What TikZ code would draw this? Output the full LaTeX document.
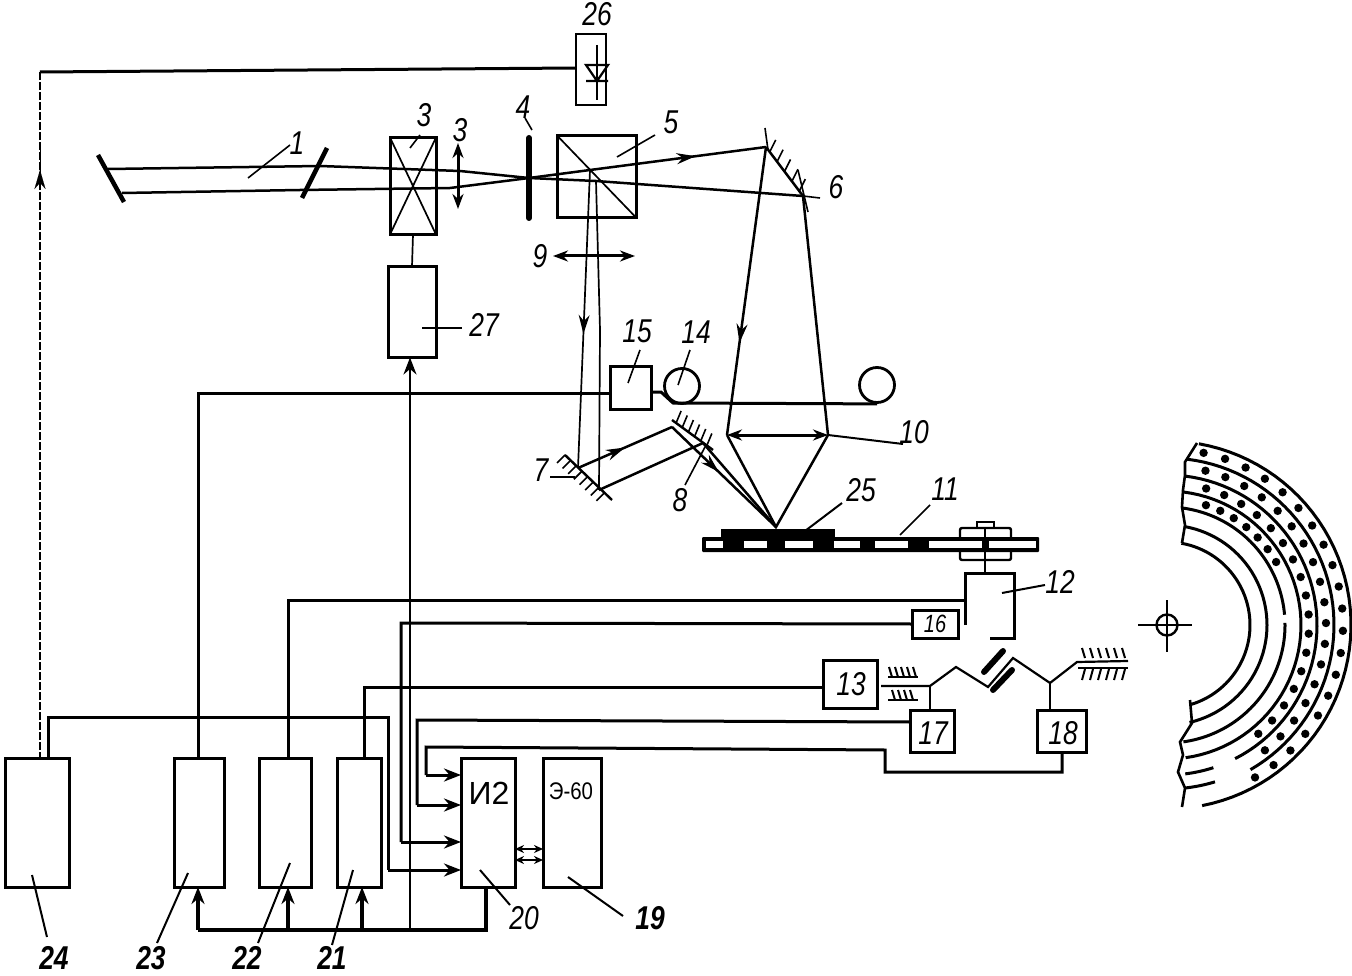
\documentclass[tikz,border=0pt]{standalone}
\usepackage{fontspec}
\setmainfont{Liberation Sans}
\usetikzlibrary{arrows.meta,decorations.markings,calc}
\tikzset{
 bx/.style={draw,line width=3pt,inner sep=0pt,outer sep=0pt,rectangle},
 wire/.style={line width=3pt,line join=miter},
 thin wire/.style={line width=1.7pt},
 beam/.style={line width=2.5pt},
 lead/.style={line width=1.6pt},
 lab/.style={font=\fontsize{33}{33}\selectfont\itshape,xscale=.8,inner sep=0pt},
 blab/.style={font=\fontsize{33}{33}\selectfont\bfseries\itshape,xscale=.8,inner sep=0pt},
 midarr/.style={postaction={decorate,decoration={markings,mark=at position #1 with {\arrow{Stealth[length=19pt,width=11pt]}}}}},
 wtip/.style={-{Stealth[length=17pt,width=13pt]}},
 dbl/.style={{Stealth[length=15pt,width=11pt]}-{Stealth[length=15pt,width=11pt]}},
 sdbl/.style={{Stealth[length=9pt,width=8pt]}-{Stealth[length=9pt,width=8pt]}},
 mirror/.style={line width=4.5pt},
}
\begin{document}
\begin{tikzpicture}[x=1pt,y=-1pt]
\useasboundingbox (0,0) rectangle (1352,976);
% ---------- boxes
\node[bx,line width=1.8pt,minimum width=30pt,minimum height=71pt] (b26) at (591,69.5) {};
\node[bx,minimum width=46pt,minimum height=97pt] (b3) at (413,186) {};
\node[bx,minimum width=48pt,minimum height=91pt] (b27) at (412,312) {};
\node[bx,minimum width=79pt,minimum height=82pt] (b5) at (597,177) {};
\node[bx,minimum width=41pt,minimum height=43pt] (b15) at (631,388) {};
\node[bx,minimum width=46pt,minimum height=28pt] (b16) at (935,624) {};
\node[bx,minimum width=54pt,minimum height=48pt] (b13) at (850,684) {};
\node[bx,minimum width=44pt,minimum height=42pt] (b17) at (932,731) {};
\node[bx,minimum width=49pt,minimum height=42pt] (b18) at (1062,731) {};
\node[bx,minimum width=64pt,minimum height=129pt] (b24) at (37,822.5) {};
\node[bx,minimum width=50pt,minimum height=129pt] (b23) at (199,822.5) {};
\node[bx,minimum width=52pt,minimum height=129pt] (b22) at (285,822.5) {};
\node[bx,minimum width=44pt,minimum height=129pt] (b21) at (359,822.5) {};
\node[bx,minimum width=54pt,minimum height=129pt] (b20) at (488,822.5) {};
\node[bx,minimum width=58pt,minimum height=129pt] (b19) at (572,822.5) {};
\node[draw=none,minimum width=48pt,minimum height=65pt,inner sep=0pt] (b12) at (990,606) {};
\draw[bx,draw] (b12.south west |- 0,625) -- (b12.north west) -- (b12.north east) -- (b12.south east) -- ++(-24,0);
% ---------- diode
\draw[thin wire] (597,45)--(597,100);
\draw[line width=2.2pt] (586,65)--(608,65)--(597,81)--cycle (586,81)--(608,81);
% ---------- laser
\coordinate (mL1) at (98,155); \coordinate (mL2) at (124,202);
\coordinate (mR1) at (327,148); \coordinate (mR2) at (302,198);
\draw[mirror] (mL1)--(mL2);
\draw[mirror] (mR1)--(mR2);
\coordinate (f) at (529,178);
\coordinate (uL) at (108,169); \coordinate (uR) at (320,166);
\coordinate (lL) at (122,193); \coordinate (lR) at (300,190);
\coordinate (u2) at (766,147); \coordinate (l2) at (803,196);
\coordinate (s1) at (590,170); \coordinate (s2) at (596,181);
\draw[beam] (uL)--(uR)--(460,171)--(f)--(s2)--(l2);
\draw[beam] (lL)--(lR)--(450,188)--(f)--(s1);
\draw[beam,midarr=.6] (s1)--(u2);
% box 3 cross
\draw[thin wire] (b3.north west)--(b3.south east) (b3.north east)--(b3.south west);
% box 5 diagonal
\draw[thin wire] (b5.north west)--(b5.south east);
% lens, plate
\draw[line width=3pt,dbl] (458,143)--(458,209);
\draw[line width=6pt,line cap=round] (529,138)--(529,218);
% vertical beams from 5
\coordinate (d1) at (578,468); \coordinate (d2) at (599,490);
\draw[thin wire,midarr=.55] (s1)--(d1);
\draw[thin wire] (s2)--(600,330)--(d2);
\draw[line width=3pt,dbl] (553,256)--(635,256);
% mirror 6
\draw[beam] (u2)--(l2);
\draw[lead] (765,128)--(768,150) (798,170)--(808,212) (803,196)--(820,198);
\foreach \p in {.1,.3,.5,.7,.9}{\draw[lead] ($(u2)!\p!(l2)$)--++(6,-12);}
% to focus
\coordinate (lensL) at (727,435); \coordinate (lensR) at (828,435);
\coordinate (spot) at (776,527);
\draw[beam,midarr=.68] (u2)--(lensL);
\draw[beam] (l2)--(lensR);
\draw[beam] (lensL)--(spot)--(lensR);
\draw[line width=3pt,dbl] (lensL)--(lensR);
\draw[lead,line width=2pt] (lensR)--(903,444);
% mirror 7, 8
\draw[line width=2.4pt] (565,455)--(612,500);
\foreach \p in {0,.12,.24,.36,.48,.6,.72,.84}{\draw[lead] ($(565,455)!\p!(612,500)$)--++(-8,8);}
\draw[line width=2.4pt] (672,420)--(713,450);
\foreach \p in {0.1,.25,.4,.55,.7,.85}{\draw[lead] ($(672,420)!\p!(713,450)$)--++(5,-12);}
\coordinate (m8a) at (672,427); \coordinate (m8b) at (703,443);
\draw[beam,midarr=.5] (d1)--(m8a);
\draw[beam] (d2)--(m8b);
\draw[beam,midarr=.45] (m8a)--(spot);
\draw[beam] (m8b)--(spot);
% film, spools
\node[draw,circle,line width=2.8pt,minimum size=35pt,inner sep=0pt] (s14) at (682,386) {};
\node[draw,circle,line width=2.8pt,minimum size=35pt,inner sep=0pt] (s14b) at (877,385) {};
\draw[line width=3pt] (b15.east |- 0,392)--(661,392)--(673,403)--(s14b.south);
% disk
\fill[black] (721,529) rectangle (835,537);
\fill[black,rounded corners=1pt] (702,537) rectangle (1039,552);
\foreach \a/\b in {706/723,744/767,785/813,834/860,875/908,929/982,989/1036}{\fill[white] (\a,541) rectangle (\b,548);}
\draw[line width=2.4pt] (977,528) -- (977,522) -- (994,522) -- (994,528);
\draw[line width=2.4pt,rounded corners=2pt] (960,537) -- (960,528) -- (1011,528) -- (1011,537);
\draw[line width=2.4pt,rounded corners=2pt] (960,552) -- (960,560) -- (1011,560) -- (1011,552);
\draw[line width=2pt] (985,528)--(b12.north -| 985,0);
% spring
\coordinate (g1) at (930,686); \coordinate (g2) at (1077,662); \coordinate (sp) at (1050,683);
\draw[line width=2.2pt] (881,686)--(g1)--(956,667)--(988,687)--(1013,658)--(sp)--(g2)--(1128,661);
\draw[line width=6pt,line cap=round] (984,672)--(1003,651);
\draw[line width=6pt,line cap=round] (993,690)--(1012,670);
\draw[line width=2pt] (g1)--(b17.north -| g1);
\draw[line width=2pt] (sp)--(b18.north -| sp);
\foreach \x in {889,895,901,907,913}{\draw[lead,line width=2pt] (\x,667)--(\x+3,677);}
\draw[line width=2.2pt] (888,677)--(918,677);
\draw[line width=2.2pt] (888,700)--(918,700);
\foreach \x in {892,898,904,910}{\draw[lead,line width=2pt] (\x,690)--(\x+3,700);}
\foreach \x in {1082,1090,1098,1106,1114,1122}{\draw[lead,line width=2pt] (\x,648)--(\x+3,658);}
\draw[line width=2.6pt] (1078,668)--(1128,668);
\foreach \x in {1082,1090,1098,1106,1114,1122}{\draw[lead,line width=2pt] (\x+3,669)--(\x,680);}
% ---------- wires
\draw[wire] (b26.west |- 0,68) -- (40,72);
\draw[thin wire,dash pattern=on 8pt off 2pt] (40,72) -- (b24.north -| 40,0);
\path[midarr=.5,line width=.1pt,draw] (40,190)--(40,150);
\coordinate (j24) at (48,758);
\draw[wire] (j24)--(48,717)--(388,717)--(388,870);
\draw[wire,wtip] (388,870)--(b20.west |- 0,870);
\draw[wire] (b23.north -| 198,0)--(198,393)--(b15.west |- 0,393);
\draw[wire] (b22.north -| 288,0)--(288,600)--(b12.west |- 0,600);
\draw[wire] (b21.north -| 364,0)--(364,687)--(b13.west |- 0,687);
\draw[wire] (b16.west)--(401,623)--(401,842);
\draw[wire,wtip] (401,842)--(b20.west |- 0,842);
\draw[wire] (b17.west |- 0,722)--(417,720)--(417,805);
\draw[wire,wtip] (417,805)--(b20.west |- 0,805);
\draw[wire] (b18.south -| 1062,0)--(1062,772)--(885,772)--(885,750)--(426,747)--(426,775);
\draw[wire,wtip] (426,775)--(b20.west |- 0,775);
\coordinate (bus) at (410,930);
\draw[wire,line width=3.6pt] (198,930)--(486,930)--(b20.south -| 486,0);
\draw[wire,line width=3.6pt,wtip] (198,930)--(b23.south -| 198,0);
\draw[wire,line width=3.6pt,wtip] (288,930)--(b22.south -| 288,0);
\draw[wire,line width=3.6pt,wtip] (362,930)--(b21.south -| 362,0);
\draw[line width=2.4pt,wtip] (bus)--(b27.south -| bus);
\draw[thin wire] (b3.south)--(b27.north);
\draw[line width=2pt,sdbl] (b20.east |- 0,849)--(b19.west |- 0,849);
\draw[line width=2pt,sdbl] (b20.east |- 0,860)--(b19.west |- 0,860);
% ---------- labels and leaders
\draw[lead] (248,178)--(290,145);
\draw[lead,line width=2pt] (422,328)--(462,328);
\draw[lead] (628,383)--(640,350);
\draw[lead] (678,385)--(690,350);
\draw[lead] (550,477)--(575,477);
\draw[lead] (685,485)--(705,447);
\draw[lead,line width=2pt] (805,531)--(842,503);
\draw[lead] (900,535)--(930,505);
\draw[lead,line width=2pt] (1002,593)--(1045,585);
\draw[lead,line width=2pt] (32,875)--(47,937);
\draw[lead,line width=2pt] (188,873)--(157,943);
\draw[lead,line width=2pt] (290,863)--(258,943);
\draw[lead,line width=2pt] (353,870)--(332,945);
\draw[lead,line width=2pt] (480,870)--(510,905);
\draw[lead,line width=2pt] (568,877)--(623,916);
\draw[lead] (420,135)--(410,148);
\draw[lead] (525,118)--(532,130);
\draw[lead] (617,157)--(655,135);
\node[lab] (t26) at (597,14) {26};
\node[lab] (t1) at (297,143) {1};
\node[lab] (t3a) at (424,115) {3};
\node[lab] (t3b) at (460,130) {3};
\node[lab] (t4) at (523,107) {4};
\node[lab] (t5) at (671,122) {5};
\node[lab] (t6) at (836,187) {6};
\node[lab] (t9) at (540,256) {9};
\node[lab] (t27) at (484,325) {27};
\node[lab] (t15) at (637,331) {15};
\node[lab] (t14) at (696,332) {14};
\node[lab] (t10) at (914,432) {10};
\node[lab] (t7) at (541,470) {7};
\node[lab] (t8) at (680,500) {8};
\node[lab] (t25) at (861,490) {25};
\node[lab] (t11) at (945,489) {11};
\node[lab] (t12) at (1060,582) {12};
\node[lab,font=\fontsize{25}{25}\selectfont\itshape] (t16) at (935,624) {16};
\node[lab] (t13) at (851,684) {13};
\node[lab] (t17) at (933,733) {17};
\node[lab] (t18) at (1063,733) {18};
\node[font=\fontsize{32}{32}\selectfont,inner sep=0pt] (t20a) at (489,793) {И2};
\node[font=\fontsize{24}{24}\selectfont,inner sep=0pt,xscale=.85] (t19a) at (571,791) {Э-60};
\node[blab] (t24) at (54,958) {24};
\node[blab] (t23) at (151,958) {23};
\node[blab] (t22) at (247,958) {22};
\node[blab] (t21) at (332,958) {21};
\node[lab] (t20) at (524,918) {20};
\node[blab] (t19) at (650,918) {19};
% ---------- crosshair
\node[draw,circle,line width=2.4pt,minimum size=21pt,inner sep=0pt] (ctr) at (1167,625) {};
\draw[line width=2.4pt] (1138,625)--(1192,625) (1167,600)--(1167,652);
% ---------- disc sector
\foreach \r/\a/\b in {83/-80/73,100/-80/77,118/-83/-5,118/-1/82,134/-83/82,150/-83/63,167/-83/60,184/-80/79,150/72/83,164/73/84}{
 \draw[line width=3pt,domain=\a:\b,samples=50] plot ({1167+\r*cos(\x)},{625+\r*sin(\x)});
}
\draw[line width=2.6pt] (1197,443)--(1185,462)--(1185,475)--(1183,490)--(1182,507)--(1185,525)--(1182,543);
\draw[line width=2.6pt] (1190,700)--(1192,723)--(1180,742)--(1183,755)--(1178,772)--(1185,788)--(1182,807);
\foreach \r/\a/\b/\n in {176/-78/60/19,159/-76/52/17,142/-74/50/16,126/-72/-30/6}{
 \foreach \i in {0,...,\n}{
  \pgfmathsetmacro{\ang}{\a+(\b-\a)*\i/\n}
  \fill ({1167+\r*cos(\ang)},{625+\r*sin(\ang)}) circle[radius=4.2pt];
 }
}
\end{tikzpicture}
\end{document}
